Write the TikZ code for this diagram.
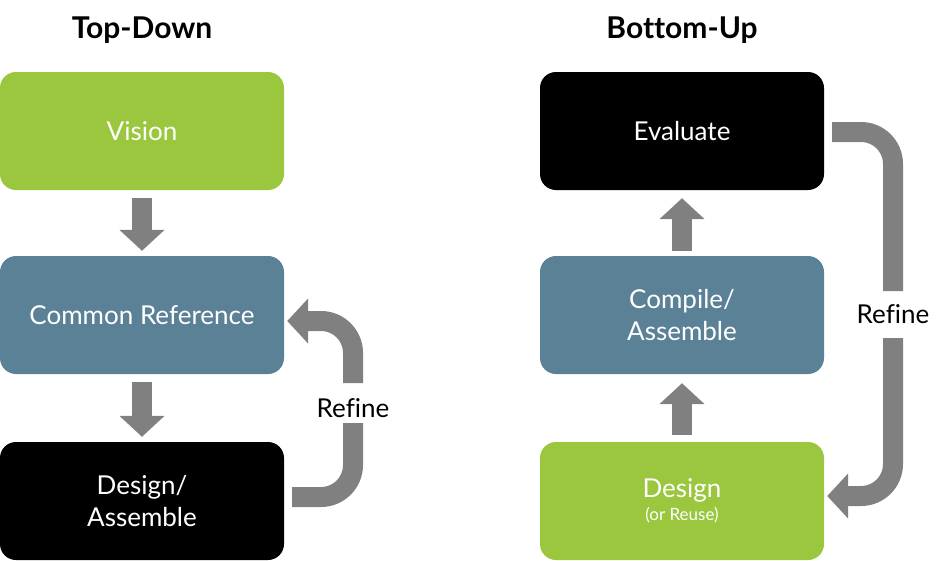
\documentclass[tikz,border=0pt]{standalone}
\usepackage{fontspec}
\setmainfont{Lato}[Ligatures=NoCommon]
\usetikzlibrary{arrows.meta}
\definecolor{stagegreen}{RGB}{154,199,61}
\definecolor{stageblue}{RGB}{91,129,150}
\definecolor{flowgray}{RGB}{128,128,128}

\begin{document}
\begin{tikzpicture}[x=1pt, y=-1pt,
	stagebox/.style={rounded corners=16pt, minimum width=284pt, minimum height=118pt, inner sep=0pt, text=white, align=center, font=\fontsize{26}{32}\selectfont},
	headtext/.style={font=\fontsize{30}{34}\selectfont\bfseries, anchor=base},
	refinetext/.style={font=\fontsize{26}{30}\selectfont},
	flowtip/.style={-{Triangle[length=21pt,width=44pt]}},
	flow/.style={draw=flowgray, line width=20pt, flowtip},
	loopline/.style={draw=flowgray, line width=20pt, rounded corners=32pt}]
	%%%%% START %%%%%
	
	\useasboundingbox (0,0) rectangle (950,560);
	
	\node[headtext] (topdown) at (142,38) {Top-Down};
	\node[headtext] (bottomup) at (682,38) {Bottom-Up};
	
	% top-down column
	\node[stagebox, fill=stagegreen] (vision) at (142,131) {Vision};
	\node[stagebox, fill=stageblue] (common) at (142,315) {Common Reference};
	\node[stagebox, fill=black] (designL) at (142,501) {Design/\\Assemble};
	
	\draw[flow] ([yshift=-8pt]vision.south) -- ([yshift=5pt]common.north);
	\draw[flow] ([yshift=-8pt]common.south) -- ([yshift=5pt]designL.north);
	
	\node[refinetext] (refineL) at (353,408) {Refine};
	\draw[loopline] ([xshift=8pt,yshift=4pt]designL.east) -| ([yshift=-15pt]refineL.center);
	\draw[loopline, flowtip] ([yshift=25pt]refineL.center) |- ([xshift=3pt,yshift=-6pt]common.east);
	
	% bottom-up column
	\node[stagebox, fill=black] (evaluate) at (682,131) {Evaluate};
	\node[stagebox, fill=stageblue] (compile) at (682,315) {Compile/\\Assemble};
	\node[stagebox, fill=stagegreen] (designR) at (682,501) {Design\\[-9pt]{\fontsize{17}{18}\selectfont(or Reuse)}};
	
	\draw[flow] ([yshift=7pt]designR.north) -- ([yshift=-9pt]compile.south);
	\draw[flow] ([yshift=5pt]compile.north) -- ([yshift=-8pt]evaluate.south);
	
	\node[refinetext] (refineR) at (893,314) {Refine};
	\draw[loopline] ([xshift=8pt,yshift=-1pt]evaluate.east) -| ([yshift=23pt]refineR.center);
	\draw[loopline, flowtip] ([yshift=-24pt]refineR.center) |- ([xshift=3pt,yshift=5pt]designR.east);
	
	%%%%% END %%%%%
\end{tikzpicture}
\end{document}
